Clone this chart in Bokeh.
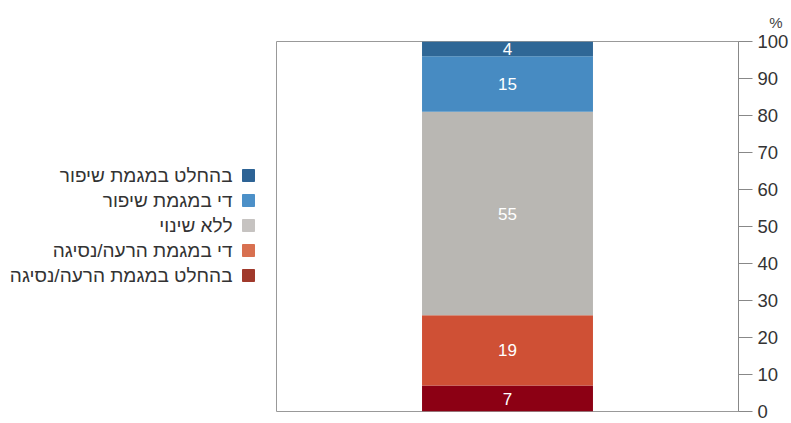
from bokeh.plotting import figure
from bokeh.layouts import row
from bokeh.models import Range1d, ColumnDataSource, Title, FixedTicker
from bokeh.core.properties import value
from bokeh.embed import file_html
from bokeh.resources import INLINE

# ---- data (bottom to top) ----
categories = ["בהחלט במגמת הרעה/נסיגה", "די במגמת הרעה/נסיגה", "ללא שינוי",
              "די במגמת שיפור", "בהחלט במגמת שיפור"]
values = [7, 19, 55, 15, 4]
bar_colors = ["#8C0014", "#CF5035", "#B9B7B3", "#478BC2", "#2F6796"]
legend_colors = ["#A0392B", "#D87050", "#C6C3C1", "#4C90C8", "#2D6395"]
y_ticks = [0, 10, 20, 30, 40, 50, 60, 70, 80, 90, 100]

FONT = "Liberation Sans"
H = 423
TOP, BOTTOM = 41, 12
LEG_W = 276

# ---- legend figure (screen-like coordinates, y measured from the top) ----
leg = figure(width=LEG_W, height=H, output_backend="svg", toolbar_location=None,
             x_range=Range1d(0, LEG_W), y_range=Range1d(H - BOTTOM, TOP),
             min_border_left=0, min_border_right=0, min_border_top=TOP,
             min_border_bottom=BOTTOM)
leg.axis.visible = False
leg.grid.visible = False
leg.outline_line_color = None
n = len(categories)
row_y = [275 - 25 * i for i in range(n)]
lsrc = ColumnDataSource(dict(cat=categories, color=legend_colors, y=row_y,
                             tx=[232] * n, sx=[248] * n))
leg.scatter(x="sx", y="y", marker="square", size=12, color="color", source=lsrc)
leg.text(x="tx", y="y", text="cat", source=lsrc, text_align="right",
         text_baseline="middle", text_font=value(FONT), text_font_size="19px",
         text_color="#333333")

# ---- main chart ----
p = figure(width=791 - LEG_W, height=H, output_backend="svg", toolbar_location=None,
           x_range=Range1d(0, 1), y_range=Range1d(0, 100),
           y_axis_location="right", min_border_left=0, min_border_right=53,
           min_border_top=TOP, min_border_bottom=BOTTOM)
p.xaxis.visible = False
p.grid.visible = False
p.outline_line_color = "#999999"
p.outline_line_width = 1

bottoms = []
acc = 0
for v in values:
    bottoms.append(acc)
    acc += v
tops = [b + v for b, v in zip(bottoms, values)]
mids = [b + v / 2 for b, v in zip(bottoms, values)]
src = ColumnDataSource(dict(x=[0.5] * len(values), bottom=bottoms, top=tops,
                            mid=mids, color=bar_colors,
                            lab=[str(v) for v in values]))
p.vbar(x="x", bottom="bottom", top="top", width=0.37, color="color",
       line_color=None, source=src)
p.text(x="x", y="mid", text="lab", source=src, text_align="center",
       text_baseline="middle", text_color="white", text_font=value(FONT),
       text_font_size="17px")

ax = p.yaxis[0]
ax.ticker = FixedTicker(ticks=y_ticks)
ax.axis_line_color = "#888888"
ax.major_tick_line_color = "#888888"
ax.major_tick_out = 14
ax.major_tick_in = 0
ax.minor_tick_line_color = None
ax.major_label_text_font = FONT
ax.major_label_text_font_size = "18.5px"
ax.major_label_text_color = "#333333"
ax.major_label_standoff = 5

p.add_layout(Title(text="%", align="right", offset=-44, standoff=22,
                   text_font=FONT, text_font_size="15px", text_font_style="normal",
                   text_color="#444444"), "above")

layout = row(leg, p, spacing=0)
open("out.html", "w").write(file_html(layout, INLINE))
